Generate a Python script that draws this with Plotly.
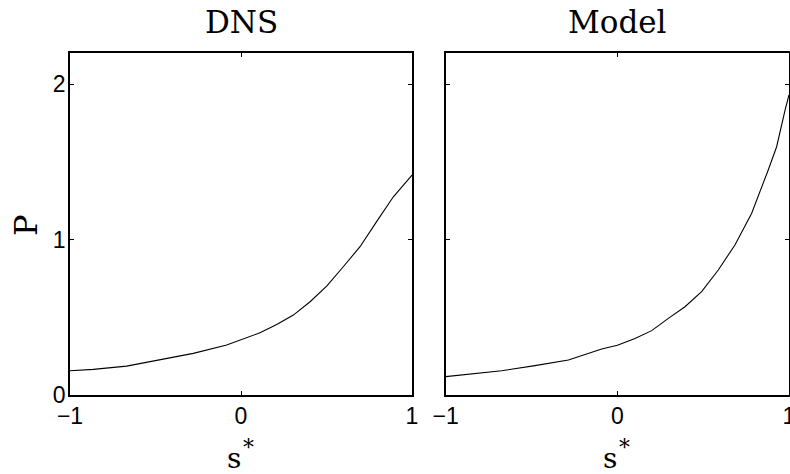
import plotly.graph_objects as go
from plotly.subplots import make_subplots

# DNS curve
dns_s = [-1.0, -0.864, -0.669, -0.474, -0.279, -0.084, 0.0, 0.111, 0.209, 0.306,
         0.404, 0.501, 0.598, 0.696, 0.793, 0.891, 1.0]
dns_p = [0.156, 0.165, 0.186, 0.225, 0.268, 0.322, 0.354, 0.40, 0.454, 0.514,
         0.60, 0.70, 0.825, 0.954, 1.115, 1.275, 1.415]

# Model curve
model_s = [-1.0, -0.868, -0.674, -0.48, -0.285, -0.091, 0.0, 0.103, 0.2, 0.297,
           0.394, 0.491, 0.588, 0.685, 0.782, 0.879, 0.928, 0.977, 1.0]
model_p = [0.118, 0.133, 0.156, 0.189, 0.225, 0.296, 0.32, 0.364, 0.414, 0.493,
           0.568, 0.665, 0.804, 0.965, 1.168, 1.447, 1.597, 1.833, 1.93]

titles = ["DNS", "Model"]
x_ticks = [-1, 0, 1]
y_ticks = [0, 1, 2]

W, H = 790, 474
fig = make_subplots(rows=1, cols=2)
fig.add_trace(go.Scatter(x=dns_s, y=dns_p, mode="lines",
                         line=dict(color="black", width=1.1), showlegend=False), 1, 1)
fig.add_trace(go.Scatter(x=model_s, y=model_p, mode="lines",
                         line=dict(color="black", width=1.1), showlegend=False), 1, 2)

tick_font = dict(family="Liberation Sans, Arial, sans-serif", size=23, color="black")
common_ax = dict(showline=True, linecolor="black", linewidth=1.6, mirror="ticks",
                 ticks="inside", ticklen=4, tickcolor="black", tickwidth=1,
                 showgrid=False, zeroline=False, tickfont=tick_font, automargin=False,
                 ticklabeloverflow="allow")

ydom = [1 - 395 / H, 1 - 53 / H]
fig.update_layout(
    width=W, height=H, margin=dict(l=0, r=0, t=0, b=0, autoexpand=False),
    plot_bgcolor="white", paper_bgcolor="white",
    xaxis=dict(domain=[70 / W, 412 / W], range=[-1, 1], tickvals=x_ticks,
               ticklabelstandoff=0, **common_ax),
    xaxis2=dict(domain=[445.7 / W, 789 / W], range=[-1, 1], tickvals=x_ticks,
                ticklabelstandoff=0, **common_ax),
    yaxis=dict(domain=ydom, range=[0, 2.2], tickvals=y_ticks,
               ticklabelstandoff=-2, **common_ax),
    yaxis2=dict(domain=ydom, range=[0, 2.2], tickvals=y_ticks,
                showticklabels=False, **common_ax),
)

serif = "DejaVu Serif, serif"
anns = [
    dict(text=titles[0], x=241 / W, y=1 - 22 / H, size=31, ya="middle", ys=0),
    dict(text=titles[1], x=617 / W, y=1 - 22 / H, size=31, ya="middle", ys=0),
    dict(text="P", x=26 / W, y=1 - 225 / H, size=32, angle=-90, ya="middle", ys=0),
    dict(text="s", x=234 / W, y=0, size=28, ya="bottom", ys=-3),
    dict(text="*", x=248 / W, y=1 - 447 / H, size=22, ya="middle", ys=0),
    dict(text="s", x=610 / W, y=0, size=28, ya="bottom", ys=-3),
    dict(text="*", x=624 / W, y=1 - 447 / H, size=22, ya="middle", ys=0),
]
for a in anns:
    fig.add_annotation(text=a["text"], x=a["x"], y=a["y"], xref="paper", yref="paper",
                       xanchor="center", yanchor=a["ya"], yshift=a["ys"], showarrow=False,
                       textangle=a.get("angle", 0),
                       font=dict(family=serif, size=a["size"], color="black"))

fig.write_html("out.html")
